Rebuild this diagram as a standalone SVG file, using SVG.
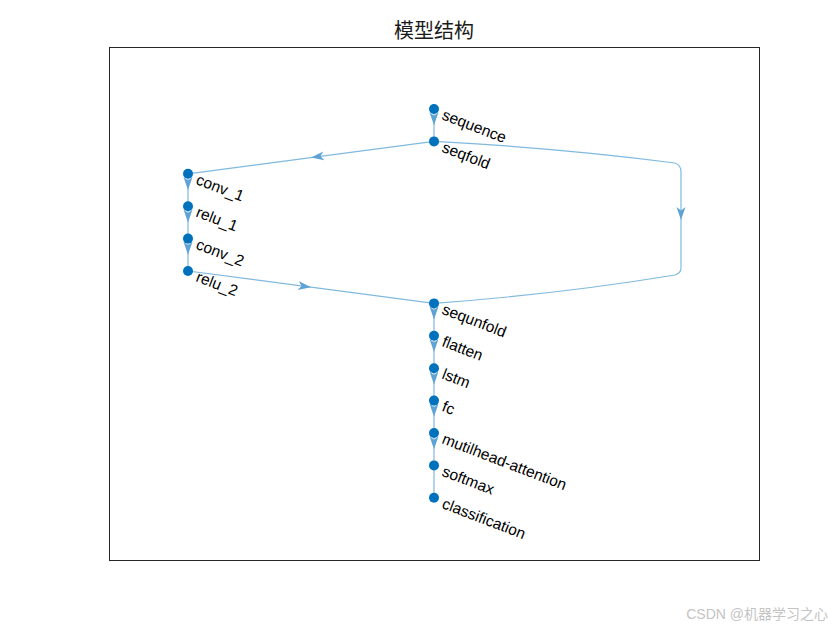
<svg xmlns="http://www.w3.org/2000/svg" width="840" height="630" viewBox="0 0 840 630">
<style>
.e{fill:none;stroke:#80B9DE;stroke-width:1.2}
.n{fill:#0072BD}
.l{font-family:"Liberation Sans",Arial,sans-serif;font-size:15.5px;fill:#000}
.a{fill:#5FA3D5}
</style>
<defs>
<path id="ah" d="M0,0 L-13,-4.5 L-9.5,0 L-13,4.5 Z"/>
</defs>
<rect width="840" height="630" fill="#fff"/>
<rect x="109.5" y="47.5" width="650" height="513" fill="#fff" stroke="#262626" stroke-width="1"/>
<text x="434" y="38" text-anchor="middle" font-family="'Noto Sans CJK SC',sans-serif" font-size="20" fill="#1a1a1a">模型结构</text>
<g id="edges">
<path class="e" d="M434,109 V141.4"/>
<path class="e" d="M434,141.4 L188,173.8"/>
<path class="e" d="M188,173.8 V271"/>
<path class="e" d="M188,271 L434,303.4"/>
<path class="e" d="M434,141.4 Q560,148 675,163 Q681,165 681,172 L681,268 Q681,273 675,275 Q560,294 434,303.4"/>
<path class="e" d="M434,303.4 V497.8"/>
<g class="a">
<use href="#ah" transform="translate(434,125.2) rotate(90)"/>
<use href="#ah" transform="translate(311,157.6) rotate(172.5)"/>
<use href="#ah" transform="translate(188,190) rotate(90)"/>
<use href="#ah" transform="translate(188,222.4) rotate(90)"/>
<use href="#ah" transform="translate(188,254.8) rotate(90)"/>
<use href="#ah" transform="translate(311,287.2) rotate(7.5)"/>
<use href="#ah" transform="translate(681,220) rotate(90)"/>
<use href="#ah" transform="translate(434,319.6) rotate(90)"/>
<use href="#ah" transform="translate(434,352) rotate(90)"/>
<use href="#ah" transform="translate(434,384.4) rotate(90)"/>
<use href="#ah" transform="translate(434,416.8) rotate(90)"/>
<use href="#ah" transform="translate(434,449.2) rotate(90)"/>
</g>
</g>
<g id="sequence"><circle class="n" cx="434" cy="109" r="5"/><text class="l" x="441" y="119" transform="rotate(21 441 119)">sequence</text></g>
<g id="seqfold"><circle class="n" cx="434" cy="141.4" r="5"/><text class="l" x="441" y="151.4" transform="rotate(21 441 151.4)">seqfold</text></g>
<g id="conv_1"><circle class="n" cx="188" cy="173.8" r="5"/><text class="l" x="195" y="183.8" transform="rotate(21 195 183.8)">conv_1</text></g>
<g id="relu_1"><circle class="n" cx="188" cy="206.2" r="5"/><text class="l" x="195" y="216.2" transform="rotate(21 195 216.2)">relu_1</text></g>
<g id="conv_2"><circle class="n" cx="188" cy="238.6" r="5"/><text class="l" x="195" y="248.6" transform="rotate(21 195 248.6)">conv_2</text></g>
<g id="relu_2"><circle class="n" cx="188" cy="271" r="5"/><text class="l" x="195" y="281" transform="rotate(21 195 281)">relu_2</text></g>
<g id="sequnfold"><circle class="n" cx="434" cy="303.4" r="5"/><text class="l" x="441" y="313.4" transform="rotate(21 441 313.4)">sequnfold</text></g>
<g id="flatten"><circle class="n" cx="434" cy="335.8" r="5"/><text class="l" x="441" y="345.8" transform="rotate(21 441 345.8)">flatten</text></g>
<g id="lstm"><circle class="n" cx="434" cy="368.2" r="5"/><text class="l" x="441" y="378.2" transform="rotate(21 441 378.2)">lstm</text></g>
<g id="fc"><circle class="n" cx="434" cy="400.6" r="5"/><text class="l" x="441" y="410.6" transform="rotate(21 441 410.6)">fc</text></g>
<g id="mutilhead-attention"><circle class="n" cx="434" cy="433" r="5"/><text class="l" x="441" y="443" transform="rotate(21 441 443)">mutilhead-attention</text></g>
<g id="softmax"><circle class="n" cx="434" cy="465.4" r="5"/><text class="l" x="441" y="475.4" transform="rotate(21 441 475.4)">softmax</text></g>
<g id="classification"><circle class="n" cx="434" cy="497.8" r="5"/><text class="l" x="441" y="507.8" transform="rotate(21 441 507.8)">classification</text></g>
<text x="828" y="619" text-anchor="end" font-family="'Liberation Sans','Noto Sans CJK SC',sans-serif" font-size="14" fill="#c4c4c4">CSDN @机器学习之心</text>
</svg>
